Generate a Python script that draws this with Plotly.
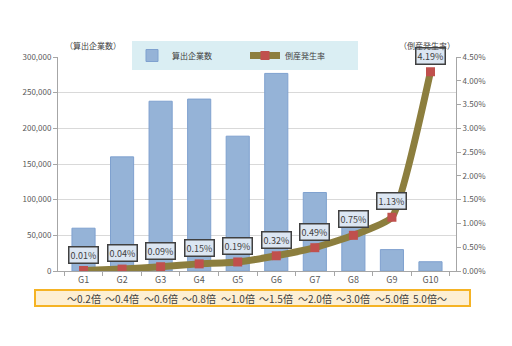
import plotly.graph_objects as go

categories = ["G1", "G2", "G3", "G4", "G5", "G6", "G7", "G8", "G9", "G10"]
companies = [60000, 160000, 238000, 241000, 189000, 277000, 110000, 63000, 30000, 13000]
rates = [0.01, 0.04, 0.09, 0.15, 0.19, 0.32, 0.49, 0.75, 1.13, 4.19]
multipliers = ["～0.2倍", "～0.4倍", "～0.6倍", "～0.8倍", "～1.0倍", "～1.5倍", "～2.0倍", "～3.0倍", "～5.0倍", "5.0倍～"]

FONT = "Noto Sans CJK JP"
rate_frac = [r / 100 for r in rates]

L, R, T, B = 58, 56, 57, 75
W, H = 512, 346
pw, ph = W - L - R, H - T - B

def px_to_paper(xp, yp):
    return (xp - L) / pw, (H - B - yp) / ph

fig = go.Figure()
fig.add_trace(go.Bar(
    x=categories, y=companies, name="算出企業数",
    marker=dict(color="#95B3D7", line=dict(color="#7FA1CF", width=1)),
    width=0.6, yaxis="y",
))
fig.add_trace(go.Scatter(
    x=categories, y=rate_frac, name="倒産発生率", yaxis="y2",
    mode="lines+markers",
    line=dict(color="#8C7E3E", width=7, shape="spline", smoothing=0.45),
    marker=dict(symbol="square", size=9, color="#C0504D", line=dict(color="#C0504D", width=0)),
))

annotations = []
for c, r, rf in zip(categories, rates, rate_frac):
    annotations.append(dict(
        x=c, y=rf, xref="x", yref="y2", text=f"{r:.2f}%", showarrow=False,
        yshift=16, font=dict(family=FONT, size=9, color="#404040"),
        bgcolor="#DCE6F2", bordercolor="#404040", borderwidth=1.5, borderpad=1,
    ))
for c, m in zip(categories, multipliers):
    annotations.append(dict(
        x=c, y=px_to_paper(0, 298)[1], xref="x", yref="paper", text=m, showarrow=False,
        font=dict(family=FONT, size=10, color="#404040"), yanchor="middle",
    ))
lx, ly = px_to_paper(63, 45)
annotations.append(dict(x=lx, y=ly, xref="paper", yref="paper", text="（算出企業数）", showarrow=False,
                        yanchor="middle", font=dict(family=FONT, size=8, color="#404040")))
rx, ry = px_to_paper(457, 45)
annotations.append(dict(x=rx, y=ry, xref="paper", yref="paper", text="（倒産発生率）", showarrow=False,
                        yanchor="middle", font=dict(family=FONT, size=8, color="#404040")))

x0, y0 = px_to_paper(35, 290)
x1, y1 = px_to_paper(470, 306)

fig.update_layout(
    width=W, height=H, margin=dict(l=L, r=R, t=T, b=B, autoexpand=False),
    paper_bgcolor="white", plot_bgcolor="white",
    font=dict(family=FONT, size=8, color="#595959"),
    xaxis=dict(type="category", showline=True, linecolor="#A6A6A6", ticks="outside",
               tickson="boundaries", ticklen=4, tickcolor="#A6A6A6",
               tickfont=dict(size=9, color="#595959"), showgrid=False),
    yaxis=dict(range=[0, 300000], dtick=50000, tickformat=",", showline=True,
               linecolor="#A6A6A6", ticks="outside", ticklen=4, tickcolor="#A6A6A6",
               gridcolor="#D9D9D9", zeroline=False, tickfont=dict(size=8, color="#595959")),
    yaxis2=dict(range=[0, 0.045], dtick=0.005, tickformat=".2%", overlaying="y", side="right",
                showline=True, linecolor="#A6A6A6", ticks="outside", ticklen=4, tickcolor="#A6A6A6",
                showgrid=False, zeroline=False, tickfont=dict(size=8, color="#595959")),
    legend=dict(orientation="h", x=px_to_paper(245, 0)[0], xanchor="center",
                y=px_to_paper(0, 41)[1], yanchor="top",
                bgcolor="#DAEEF3", font=dict(size=8, color="#404040"),
                entrywidth=68, itemwidth=30, tracegroupgap=0),
    annotations=annotations,
    shapes=[dict(type="rect", xref="paper", yref="paper", x0=x0, y0=y0, x1=x1, y1=y1,
                 line=dict(color="#F5B324", width=2), fillcolor="#FDEFD3", layer="below")],
)

fig.write_html("out.html")
